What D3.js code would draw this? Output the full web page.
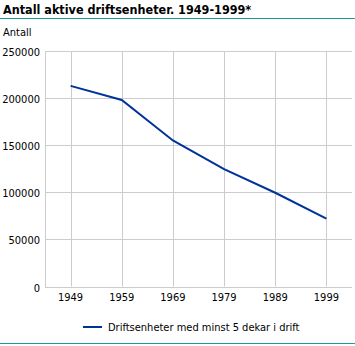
<!DOCTYPE html>
<html><head><meta charset="utf-8">
<script src="https://cdn.jsdelivr.net/npm/d3@7"></script>
<style>body{margin:0;background:#fff}svg{display:block}</style>
</head><body>
<svg id="c" width="355" height="346"></svg>
<script>
const years = ["1949","1959","1969","1979","1989","1999"];
const values = [213000, 198000, 155000, 124500, 99500, 72000];
const yTicks = [0, 50000, 100000, 150000, 200000, 250000];
const titleText = "Antall aktive driftsenheter. 1949-1999*";
const yLabel = "Antall";
const seriesName = "Driftsenheter med minst 5 dekar i drift";

const svg = d3.select("#c");
const font = "'DejaVu Sans Condensed', 'DejaVu Sans', sans-serif";
const m = {left:45, right:352, top:51, bottom:286.5};

svg.append("text").attr("x",3).attr("y",14).text(titleText)
  .attr("font-family",font).attr("font-weight","bold").attr("font-size",12.5).attr("fill","#000");
svg.append("line").attr("x1",0).attr("x2",355).attr("y1",18.5).attr("y2",18.5)
  .attr("stroke","#1a9a9a").attr("stroke-width",1);
svg.append("line").attr("x1",0).attr("x2",355).attr("y1",343.5).attr("y2",343.5)
  .attr("stroke","#1a9a9a").attr("stroke-width",1);
svg.append("text").attr("x",3).attr("y",36).text(yLabel)
  .attr("font-family",font).attr("font-size",11).attr("fill","#000");

const x = d3.scaleBand().domain(years).range([m.left, m.right]);
const y = d3.scaleLinear().domain([0,250000]).range([m.bottom, m.top]);

const g = svg.append("g");
g.selectAll(".hg").data(yTicks).join("line")
  .attr("x1",m.left).attr("x2",m.right)
  .attr("y1",d=>Math.round(y(d))+0.5).attr("y2",d=>Math.round(y(d))+0.5)
  .attr("stroke","#cccccc");
g.selectAll(".vg").data(years).join("line")
  .attr("x1",d=>Math.round(x(d)+x.bandwidth()/2)+0.5).attr("x2",d=>Math.round(x(d)+x.bandwidth()/2)+0.5)
  .attr("y1",m.top).attr("y2",m.bottom)
  .attr("stroke","#cccccc");
g.append("line").attr("x1",m.left+0.5).attr("x2",m.left+0.5).attr("y1",m.top).attr("y2",m.bottom+0.5).attr("stroke","#cccccc");

g.selectAll(".yl").data(yTicks).join("text")
  .attr("x",40).attr("y",d=>y(d)+5).attr("text-anchor","end")
  .attr("font-family",font).attr("font-size",11).attr("fill","#000")
  .text(d=>d);
g.selectAll(".xl").data(years).join("text")
  .attr("x",d=>x(d)+x.bandwidth()/2).attr("y",301).attr("text-anchor","middle")
  .attr("font-family",font).attr("font-size",11).attr("fill","#000")
  .text(d=>d);

const line = d3.line().x((d,i)=>x(years[i])+x.bandwidth()/2).y(d=>y(d));
svg.append("path").datum(values).attr("d",line).attr("fill","none")
  .attr("stroke","#003399").attr("stroke-width",2);

svg.append("line").attr("x1",83).attr("x2",102).attr("y1",327).attr("y2",327)
  .attr("stroke","#003399").attr("stroke-width",2);
svg.append("text").attr("x",108).attr("y",331).text(seriesName)
  .attr("font-family",font).attr("font-size",11).attr("fill","#000");
</script>
</body></html>
